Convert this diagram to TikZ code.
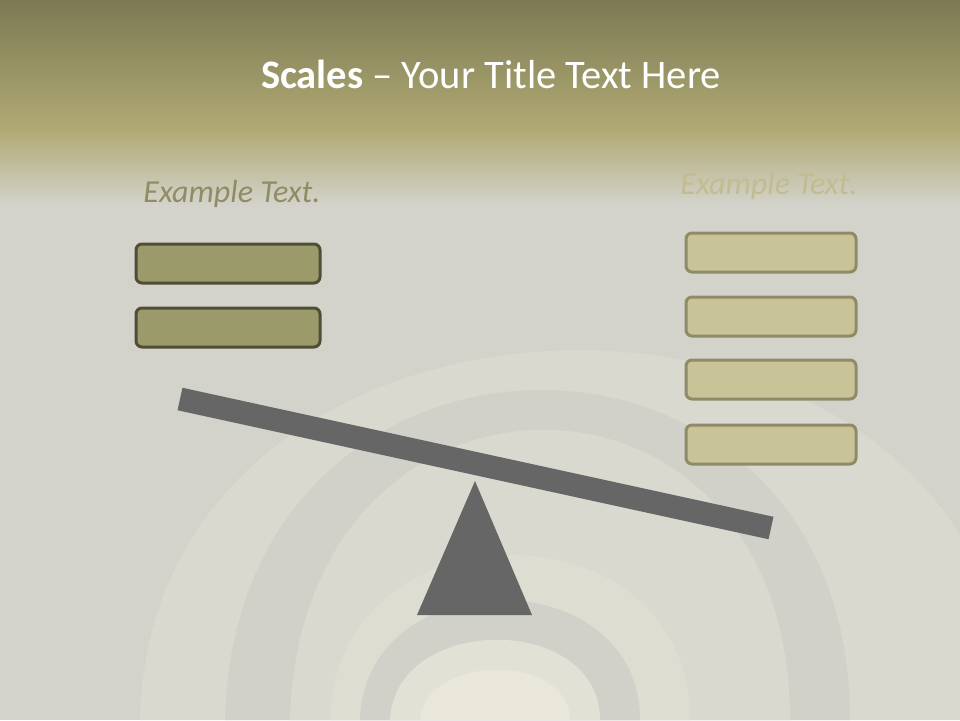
\documentclass[tikz,border=0pt]{standalone}
\usepackage{fontspec}
\setmainfont{Carlito}
\definecolor{topA}{HTML}{7C7A54}
\definecolor{topB}{HTML}{B1AA74}
\definecolor{bgA}{HTML}{D3D3CB}
\definecolor{archA}{HTML}{D9D9D0}
\definecolor{archB}{HTML}{D1D1C9}
\definecolor{archC}{HTML}{DDDDD2}
\definecolor{archD}{HTML}{E2E1D5}
\definecolor{archE}{HTML}{E8E7DA}
\definecolor{darkFill}{HTML}{9B9A6A}
\definecolor{darkLine}{HTML}{4F4E35}
\definecolor{lightFill}{HTML}{C9C398}
\definecolor{lightLine}{HTML}{8F8B68}
\definecolor{beamGray}{HTML}{666666}
\definecolor{exDark}{HTML}{8F8D65}
\definecolor{exLight}{HTML}{C2BC92}
\tikzset{
  darkbox/.style={draw=darkLine, fill=darkFill, line width=3pt, rounded corners=6pt,
    minimum width=184pt, minimum height=39pt, inner sep=0pt},
  lightbox/.style={draw=lightLine, fill=lightFill, line width=3pt, rounded corners=6pt,
    minimum width=170pt, minimum height=39pt, inner sep=0pt},
  extext/.style={font=\fontsize{32}{36}\selectfont\itshape},
}
\begin{document}
\begin{tikzpicture}[x=1pt,y=-1pt]
\useasboundingbox (0,0) rectangle (960,720);
% background
\fill[bgA] (0,0) rectangle (960,720);
\begin{scope}
\clip (0,0) rectangle (960,720);
\fill[archA] (140,720) .. controls (150,227) and (1010,227) .. (1010,720) -- cycle;
\fill[archB] (225,720) .. controls (235,280) and (850,280) .. (850,720) -- cycle;
\fill[archA] (290,720) .. controls (300,333) and (790,333) .. (790,720) -- cycle;
\fill[archC] (330,720) .. controls (335,500) and (690,500) .. (690,720) -- cycle;
\fill[archB] (360,720) .. controls (365,560) and (640,560) .. (640,720) -- cycle;
\fill[archD] (390,720) .. controls (395,613) and (600,613) .. (600,720) -- cycle;
\fill[archE] (420,720) .. controls (425,653) and (570,653) .. (570,720) -- cycle;
\end{scope}
\shade[top color=topA, bottom color=topB] (0,0) rectangle (960,131);
\shade[top color=topB, bottom color=bgA] (0,130) rectangle (960,205);
% title
\node[text=white, font=\fontsize{40.5}{46}\selectfont] (title) at (491,74)
  {\textbf{Scales} – Your Title Text Here};
% example texts
\node[extext, text=exDark] (exL) at (232,194) {Example Text.};
\node[extext, text=exLight] (exR) at (769,186) {Example Text.};
% left boxes
\node[darkbox] (l1) at (228,263.5) {};
\node[darkbox] (l2) at (228,327.5) {};
% right boxes
\node[lightbox] (r1) at (771,252.5) {};
\node[lightbox] (r2) at (771,316.5) {};
\node[lightbox] (r3) at (771,379.5) {};
\node[lightbox] (r4) at (771,444.5) {};
% fulcrum
\fill[beamGray] (475,481) -- (532,615) -- (417,615) -- cycle;
% beam
\coordinate (bl) at (180,399);
\coordinate (br) at (771,528);
\draw[beamGray, line width=23pt] (bl) -- (br);
\end{tikzpicture}
\end{document}
